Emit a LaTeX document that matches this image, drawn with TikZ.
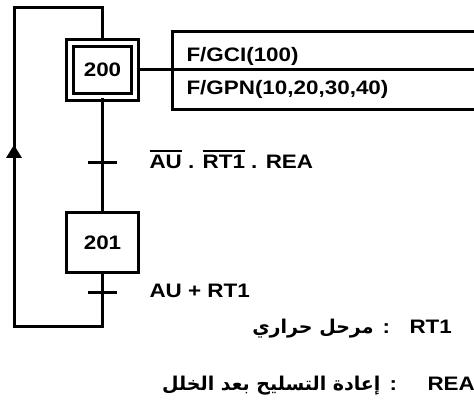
\documentclass[tikz,border=0pt]{standalone}
\usepackage{fontspec}
\setmainfont{Liberation Sans}[FakeStretch=1.15]
\newfontfamily\arabicfont[Script=Arabic]{DejaVu Sans}
\TeXXeTstate=1
\usetikzlibrary{arrows.meta}
\newcommand\ovl[1]{\leavevmode\vbox{\hrule height 1.8pt\kern 2.8pt\hbox{#1}}}
\begin{document}
\begin{tikzpicture}[x=1pt,y=-1pt,line width=3pt,
  lbl/.style={font=\fontsize{19.5}{22}\selectfont\bfseries,inner sep=0pt,anchor=base west},
  stepbox/.style={draw,minimum width=72pt,minimum height=60pt,inner sep=0pt,font=\fontsize{19.5}{22}\selectfont\bfseries},
  initbox/.style={draw,double=white,double distance=4pt,line width=3pt,minimum width=65pt,minimum height=54pt,inner sep=0pt,font=\fontsize{19.5}{22}\selectfont\bfseries},
  trans/.style={line width=3pt},
  arab/.style={font=\arabicfont\bfseries\fontsize{19}{22}\selectfont,inner sep=0pt,anchor=base east}]
\useasboundingbox (0,0) rectangle (474,401);
% steps
\node[initbox] (s200) at (102.5,70) {200};
\node[stepbox] (s201) at (102.5,242.5) {201};
% loop coordinates
\coordinate (top) at (102.5,8);
\coordinate (tl) at (14,8);
\coordinate (bl) at (14,326);
\coordinate (br) at (102.5,326);
\coordinate (t1) at (102.5,163);
\coordinate (t2) at (102.5,292);
% links
\draw (s200.north) -- (top) -- (tl) -- (bl) -- (br) -- (s201.south);
\draw (s200.south) -- (s201.north);
\fill (14,145) -- (22,158) -- (6,158) -- cycle;
% transitions
\draw[trans] ([xshift=-14.5pt]t1) -- ([xshift=14.5pt]t1);
\draw[trans] ([xshift=-14.5pt]t2) -- ([xshift=14.5pt]t2);
\node[lbl] (c1) at (148,168) {\ovl{AU} . \ovl{RT1} . REA};
\node[lbl] (c2) at (148,297) {AU + RT1};
% action
\coordinate (actl) at (172,70);
\draw (s200.east) -- (actl);
\draw (480,32) -- (172,32) -- (172,110) -- (480,110);
\draw (172,70) -- (480,70);
\node[lbl] (a1) at (185,62) {F/GCI(100)};
\node[lbl] (a2) at (185,95) {F/GPN(10,20,30,40)};
% legend
\node[lbl] (r1) at (408,333) {RT1};
\node[lbl] (k1) at (381,333) {:};
\node[arab] (d1) at (375,333) {\beginR مرحل حراري\endR};
\node[lbl] (r2) at (426,390) {REA};
\node[lbl] (k2) at (388,390) {:};
\node[arab] (d2) at (382,390) {\beginR إعادة التسليح بعد الخلل\endR};
\end{tikzpicture}
\end{document}
